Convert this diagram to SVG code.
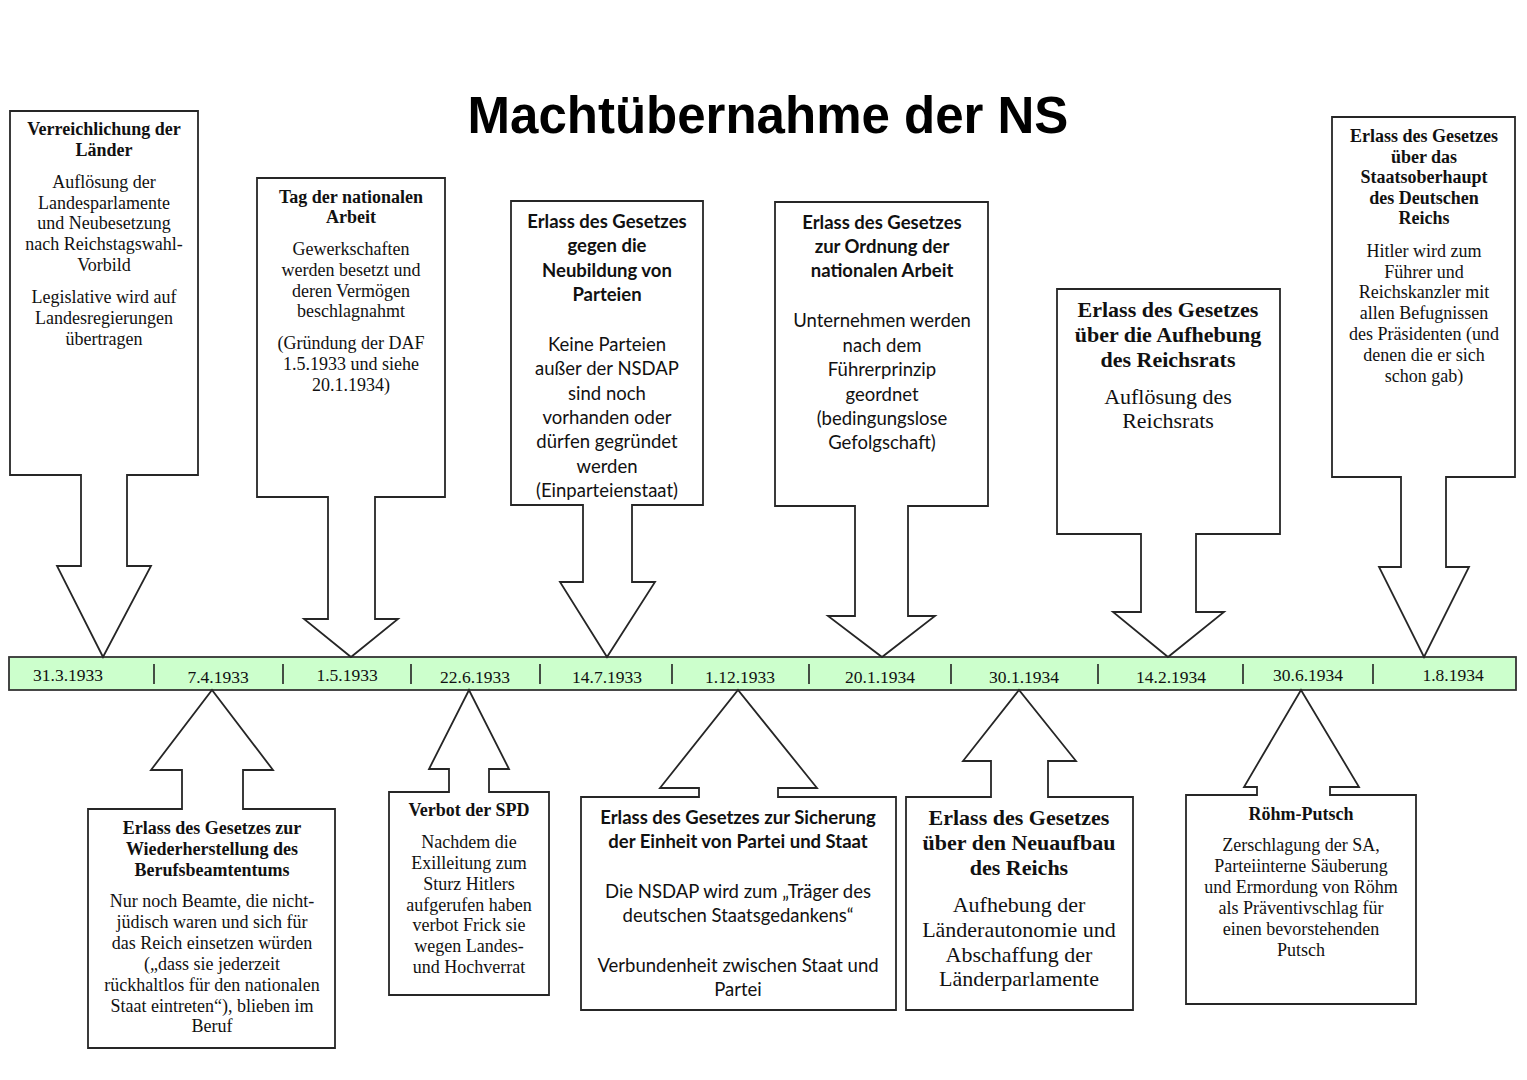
<svg xmlns="http://www.w3.org/2000/svg" width="1527" height="1080" viewBox="0 0 1527 1080">
<style>
.shape{fill:#ffffff;stroke:#262626;stroke-width:1.8;stroke-linejoin:miter}
.t{font-family:"Liberation Serif","Times New Roman",serif;font-size:18px;fill:#111;text-anchor:middle}
.tb{font-weight:bold}
.big{font-size:22px}
.c{font-family:Lato,"Open Sans",sans-serif;font-size:18.5px;fill:#111;text-anchor:middle}
.cb{font-weight:bold}
.title{font-family:"Liberation Sans",Arial,sans-serif;font-weight:bold;font-size:51px;fill:#000;text-anchor:middle}
.bar{fill:#ccffcc;stroke:#333;stroke-width:1.8}
.tick{stroke:#222;stroke-width:1.6}
.date{font-family:"Liberation Serif","Times New Roman",serif;font-size:17.5px;fill:#111;text-anchor:middle}
</style>
<rect width="1527" height="1080" fill="#ffffff"/>
<text class="title" x="768" y="133">Machtübernahme der NS</text>

<g id="timeline">
<rect class="bar" x="9" y="657" width="1507" height="33"/>
<g class="ticks">
<line class="tick" x1="154" y1="664" x2="154" y2="684"/>
<line class="tick" x1="283" y1="664" x2="283" y2="684"/>
<line class="tick" x1="411" y1="664" x2="411" y2="684"/>
<line class="tick" x1="540" y1="664" x2="540" y2="684"/>
<line class="tick" x1="672" y1="664" x2="672" y2="684"/>
<line class="tick" x1="809" y1="664" x2="809" y2="684"/>
<line class="tick" x1="951" y1="664" x2="951" y2="684"/>
<line class="tick" x1="1098" y1="664" x2="1098" y2="684"/>
<line class="tick" x1="1243" y1="664" x2="1243" y2="684"/>
<line class="tick" x1="1373" y1="664" x2="1373" y2="684"/>
</g>
<text class="date" x="68" y="681">31.3.1933</text>
<text class="date" x="218" y="683">7.4.1933</text>
<text class="date" x="347" y="681">1.5.1933</text>
<text class="date" x="475" y="683">22.6.1933</text>
<text class="date" x="607" y="683">14.7.1933</text>
<text class="date" x="740" y="683">1.12.1933</text>
<text class="date" x="880" y="683">20.1.1934</text>
<text class="date" x="1024" y="683">30.1.1934</text>
<text class="date" x="1171" y="683">14.2.1934</text>
<text class="date" x="1308" y="681">30.6.1934</text>
<text class="date" x="1453" y="681">1.8.1934</text>
</g>

<g id="connectors">
</g>

<g id="n-verreichlichung">
<path class="shape" d="M10,111 H198 V475 H127 V566 H151 L103,657 L57,566 H81 V475 H10 Z"/>
<text class="t tb" x="104" y="135">Verreichlichung der</text>
<text class="t tb" x="104" y="156">Länder</text>
<text class="t" x="104" y="188">Auflösung der</text>
<text class="t" x="104" y="209">Landesparlamente</text>
<text class="t" x="104" y="229">und Neubesetzung</text>
<text class="t" x="104" y="250">nach Reichstagswahl-</text>
<text class="t" x="104" y="271">Vorbild</text>
<text class="t" x="104" y="303">Legislative wird auf</text>
<text class="t" x="104" y="324">Landesregierungen</text>
<text class="t" x="104" y="345">übertragen</text>
</g>

<g id="n-tag-arbeit">
<path class="shape" d="M257,178 H445 V497 H375 V619 H398 L351,657 L304,619 H328 V497 H257 Z"/>
<text class="t tb" x="351" y="203">Tag der nationalen</text>
<text class="t tb" x="351" y="223">Arbeit</text>
<text class="t" x="351" y="255">Gewerkschaften</text>
<text class="t" x="351" y="276">werden besetzt und</text>
<text class="t" x="351" y="297">deren Vermögen</text>
<text class="t" x="351" y="317">beschlagnahmt</text>
<text class="t" x="351" y="349">(Gründung der DAF</text>
<text class="t" x="351" y="370">1.5.1933 und siehe</text>
<text class="t" x="351" y="391">20.1.1934)</text>
</g>

<g id="n-parteien">
<path class="shape" d="M511,201 H703 V505 H632 V582 H655 L607,657 L560,582 H583 V505 H511 Z"/>
<text class="c cb" x="607" y="228">Erlass des Gesetzes</text>
<text class="c cb" x="607" y="252">gegen die</text>
<text class="c cb" x="607" y="277">Neubildung von</text>
<text class="c cb" x="607" y="301">Parteien</text>
<text class="c" x="607" y="351">Keine Parteien</text>
<text class="c" x="607" y="375">außer der NSDAP</text>
<text class="c" x="607" y="400">sind noch</text>
<text class="c" x="607" y="424">vorhanden oder</text>
<text class="c" x="607" y="448">dürfen gegründet</text>
<text class="c" x="607" y="473">werden</text>
<text class="c" x="607" y="497">(Einparteienstaat)</text>
</g>

<g id="n-ordnung-arbeit">
<path class="shape" d="M775,202 H988 V506 H908 V616 H935 L882,657 L828,616 H855 V506 H775 Z"/>
<text class="c cb" x="882" y="229">Erlass des Gesetzes</text>
<text class="c cb" x="882" y="253">zur Ordnung der</text>
<text class="c cb" x="882" y="277">nationalen Arbeit</text>
<text class="c" x="882" y="327">Unternehmen werden</text>
<text class="c" x="882" y="352">nach dem</text>
<text class="c" x="882" y="376">Führerprinzip</text>
<text class="c" x="882" y="401">geordnet</text>
<text class="c" x="882" y="425">(bedingungslose</text>
<text class="c" x="882" y="449">Gefolgschaft)</text>
</g>

<g id="n-reichsrat">
<path class="shape" d="M1057,289 H1280 V534 H1196 V612 H1224 L1168,657 L1113,612 H1141 V534 H1057 Z"/>
<text class="t tb big" x="1168" y="317">Erlass des Gesetzes</text>
<text class="t tb big" x="1168" y="342">über die Aufhebung</text>
<text class="t tb big" x="1168" y="367">des Reichsrats</text>
<text class="t big" x="1168" y="404">Auflösung des</text>
<text class="t big" x="1168" y="428">Reichsrats</text>
</g>

<g id="n-staatsoberhaupt">
<path class="shape" d="M1332,117 H1515 V477 H1446 V567 H1469 L1424,657 L1379,567 H1401 V477 H1332 Z"/>
<text class="t tb" x="1424" y="142">Erlass des Gesetzes</text>
<text class="t tb" x="1424" y="163">über das</text>
<text class="t tb" x="1424" y="183">Staatsoberhaupt</text>
<text class="t tb" x="1424" y="204">des Deutschen</text>
<text class="t tb" x="1424" y="224">Reichs</text>
<text class="t" x="1424" y="257">Hitler wird zum</text>
<text class="t" x="1424" y="278">Führer und</text>
<text class="t" x="1424" y="298">Reichskanzler mit</text>
<text class="t" x="1424" y="319">allen Befugnissen</text>
<text class="t" x="1424" y="340">des Präsidenten (und</text>
<text class="t" x="1424" y="361">denen die er sich</text>
<text class="t" x="1424" y="382">schon gab)</text>
</g>

<g id="n-berufsbeamtentum">
<path class="shape" d="M88,809 H182 V770 H151 L212,690 L273,770 H243 V809 H335 V1048 H88 Z"/>
<text class="t tb" x="212" y="834">Erlass des Gesetzes zur</text>
<text class="t tb" x="212" y="855">Wiederherstellung des</text>
<text class="t tb" x="212" y="876">Berufsbeamtentums</text>
<text class="t" x="212" y="907">Nur noch Beamte, die nicht-</text>
<text class="t" x="212" y="928">jüdisch waren und sich für</text>
<text class="t" x="212" y="949">das Reich einsetzen würden</text>
<text class="t" x="212" y="970">(„dass sie jederzeit</text>
<text class="t" x="212" y="991">rückhaltlos für den nationalen</text>
<text class="t" x="212" y="1012">Staat eintreten“), blieben im</text>
<text class="t" x="212" y="1032">Beruf</text>
</g>

<g id="n-spd">
<path class="shape" d="M389,792 H449 V769 H429 L469,690 L509,769 H489 V792 H549 V995 H389 Z"/>
<text class="t tb" x="469" y="816">Verbot der SPD</text>
<text class="t" x="469" y="848">Nachdem die</text>
<text class="t" x="469" y="869">Exilleitung zum</text>
<text class="t" x="469" y="890">Sturz Hitlers</text>
<text class="t" x="469" y="911">aufgerufen haben</text>
<text class="t" x="469" y="931">verbot Frick sie</text>
<text class="t" x="469" y="952">wegen Landes-</text>
<text class="t" x="469" y="973">und Hochverrat</text>
</g>

<g id="n-einheit">
<path class="shape" d="M581,797 H699 V788 H660 L738,690 L817,788 H778 V797 H896 V1010 H581 Z"/>
<text class="c cb" x="738" y="824">Erlass des Gesetzes zur Sicherung</text>
<text class="c cb" x="738" y="848">der Einheit von Partei und Staat</text>
<text class="c" x="738" y="898">Die NSDAP wird zum „Träger des</text>
<text class="c" x="738" y="922">deutschen Staatsgedankens“</text>
<text class="c" x="738" y="972">Verbundenheit zwischen Staat und</text>
<text class="c" x="738" y="996">Partei</text>
</g>

<g id="n-neuaufbau">
<path class="shape" d="M906,797 H991 V761 H963 L1019,690 L1076,761 H1048 V797 H1133 V1010 H906 Z"/>
<text class="t tb big" x="1019" y="825">Erlass des Gesetzes</text>
<text class="t tb big" x="1019" y="850">über den Neuaufbau</text>
<text class="t tb big" x="1019" y="875">des Reichs</text>
<text class="t big" x="1019" y="912">Aufhebung der</text>
<text class="t big" x="1019" y="937">Länderautonomie und</text>
<text class="t big" x="1019" y="962">Abschaffung der</text>
<text class="t big" x="1019" y="986">Länderparlamente</text>
</g>

<g id="n-roehm">
<path class="shape" d="M1186,795 H1257 V787 H1244 L1301,690 L1359,787 H1330 V795 H1416 V1004 H1186 Z"/>
<text class="t tb" x="1301" y="820">Röhm-Putsch</text>
<text class="t" x="1301" y="851">Zerschlagung der SA,</text>
<text class="t" x="1301" y="872">Parteiinterne Säuberung</text>
<text class="t" x="1301" y="893">und Ermordung von Röhm</text>
<text class="t" x="1301" y="914">als Präventivschlag für</text>
<text class="t" x="1301" y="935">einen bevorstehenden</text>
<text class="t" x="1301" y="956">Putsch</text>
</g>
</svg>
